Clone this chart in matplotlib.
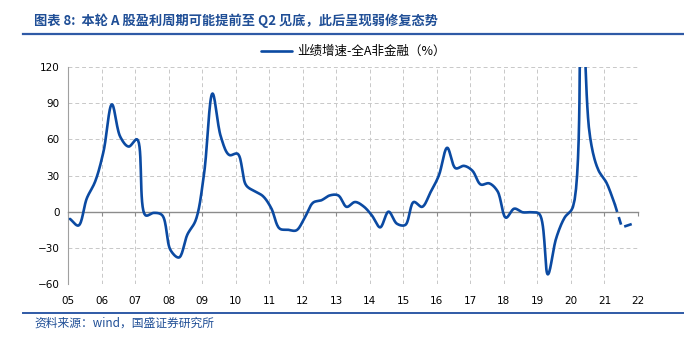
import numpy as np
import matplotlib
matplotlib.use('Agg')
import matplotlib.pyplot as plt
from matplotlib.lines import Line2D

plt.rcParams['font.family'] = ['Noto Sans CJK SC', 'DejaVu Sans']

# 数据：季度业绩增速（05Q1 - 21Q2），以及之后的预测（虚线）
years = list(range(2005, 2023))
year_labels = ['%02d' % (y % 100) for y in years]
growth = [-6, -11.5, 11, 25, 50, 89, 62, 54, 60, -3,
          -1, -3, -32, -38, -19, -7, 32, 98, 62, 47,
          48, 22, 17, 13, 3, -14, -15, -15.5, -5, 7.5,
          9.5, 13.5, 13.5, 4, 8, 4.5, -3, -13, 0, -10,
          -11, 8, 4, 16, 30, 53, 36, 38, 34, 22.5,
          23.5, 17, -5, 2.5, -0.5, -0.5, -2, -52, -22, -5,
          4, 200, 64, 35, 24, 6]
growth_t = 2005.06 + 0.25 * np.arange(len(growth))
forecast = [-13, -9]
forecast_t = [2021.52, 2021.95]

title = '图表 8:  本轮 A 股盈利周期可能提前至 Q2 见底，此后呈现弱修复态势'
legend_label = '业绩增速-全A非金融（%）'
source = '资料来源：wind，国盛证券研究所'

# 像素比例（用于在屏幕空间中做平滑）
kx = 570 / 17
ky = 217 / 180


def smooth(x, y, n=16):
    # 类似Excel平滑线：向心Catmull-Rom，在屏幕坐标中计算
    P = np.column_stack([np.asarray(x, float) * kx, np.asarray(y, float) * ky])
    P = np.vstack([2 * P[0] - P[1], P, 2 * P[-1] - P[-2]])
    out = []
    for i in range(1, len(P) - 2):
        p0, p1, p2, p3 = P[i - 1], P[i], P[i + 1], P[i + 2]
        t0 = 0.0
        t1 = t0 + np.linalg.norm(p1 - p0) ** 0.5
        t2 = t1 + np.linalg.norm(p2 - p1) ** 0.5
        t3 = t2 + np.linalg.norm(p3 - p2) ** 0.5
        t = np.linspace(t1, t2, n, endpoint=False)[:, None]
        a1 = (t1 - t) / (t1 - t0) * p0 + (t - t0) / (t1 - t0) * p1
        a2 = (t2 - t) / (t2 - t1) * p1 + (t - t1) / (t2 - t1) * p2
        a3 = (t3 - t) / (t3 - t2) * p2 + (t - t2) / (t3 - t2) * p3
        b1 = (t2 - t) / (t2 - t0) * a1 + (t - t0) / (t2 - t0) * a2
        b2 = (t3 - t) / (t3 - t1) * a2 + (t - t1) / (t3 - t1) * a3
        out.append((t2 - t) / (t2 - t1) * b1 + (t - t1) / (t2 - t1) * b2)
    out.append(P[-2][None, :])
    out = np.vstack(out)
    return out[:, 0] / kx, out[:, 1] / ky


blue = '#0b4aa2'
dark_blue = '#1f4e96'

fig = plt.figure(figsize=(6.84, 3.44), dpi=100)
ax = fig.add_axes([68 / 684, 1 - 284 / 344, 570 / 684, 217 / 344])

sx, sy = smooth(growth_t, growth)
ax.plot(sx, sy, color=blue, lw=1.9, solid_capstyle='round', label=legend_label, zorder=3)
ax.plot([growth_t[-1]] + forecast_t, [growth[-1]] + forecast, color=blue, lw=1.9,
        ls=(0, (3, 2)), zorder=3)

ax.set_xlim(2005, 2022)
ax.set_ylim(-60, 120)
ax.set_yticks(range(-60, 121, 30))
ax.set_xticks(years)
ax.set_xticklabels(year_labels)
ax.grid(True, ls=(0, (4, 3)), color='#c8c8c8', lw=0.7)
ax.set_axisbelow(True)

for s in ['top', 'right']:
    ax.spines[s].set_visible(False)
ax.spines['left'].set_color('#a0a0a0')
ax.spines['bottom'].set_position(('data', 0))
ax.spines['bottom'].set_color('#8c8c8c')
ax.spines['bottom'].set_linewidth(1.0)
ax.tick_params(axis='x', length=3, color='#8c8c8c', pad=58, labelsize=7.5)
ax.tick_params(axis='y', length=0, pad=6, labelsize=7.5)
for lab in ax.get_xticklabels() + ax.get_yticklabels():
    lab.set_family('DejaVu Sans')

ax.legend(loc='lower center', bbox_to_anchor=(0.5, 1.0), frameon=False,
          fontsize=9, handlelength=2.5, handletextpad=0.4, borderaxespad=0.3)

# 标题、分隔线、资料来源
fig.text(34 / 684, 1 - 21 / 344, title, fontsize=9.5, color=dark_blue,
         weight='bold', va='center', ha='left')
fig.add_artist(Line2D([23 / 684, 1], [1 - 34 / 344] * 2, color='#2f5aa6', lw=1.6))
fig.add_artist(Line2D([23 / 684, 1], [1 - 313 / 344] * 2, color='#2f5aa6', lw=1.4))
fig.text(34 / 684, 1 - 323 / 344, source, fontsize=8.5, color=dark_blue,
         va='center', ha='left')

fig.savefig('out.png', dpi=100)
